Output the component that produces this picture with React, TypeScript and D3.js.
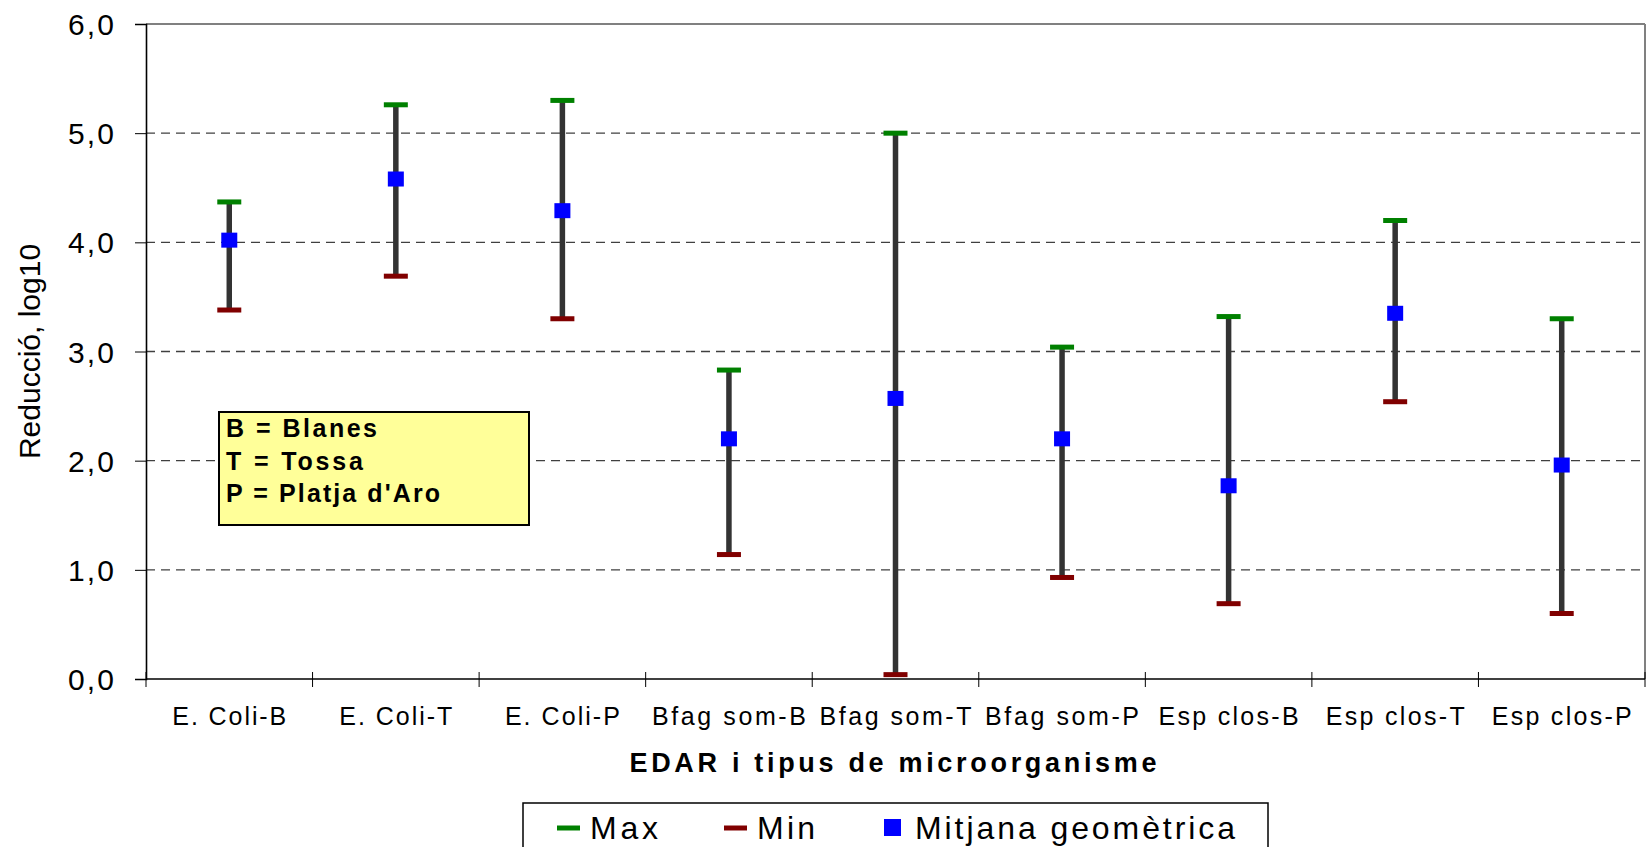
import * as d3 from "d3";
import { useEffect, useRef } from "react";

// values (log10 reduction)
const categories = [
  "E. Coli-B",
  "E. Coli-T",
  "E. Coli-P",
  "Bfag som-B",
  "Bfag som-T",
  "Bfag som-P",
  "Esp clos-B",
  "Esp clos-T",
  "Esp clos-P",
];
const maxValues = [4.37, 5.26, 5.3, 2.83, 5.0, 3.04, 3.32, 4.2, 3.3];
const minValues = [3.38, 3.69, 3.3, 1.14, 0.04, 0.93, 0.69, 2.54, 0.6];
const meanValues = [4.02, 4.58, 4.29, 2.2, 2.57, 2.2, 1.77, 3.35, 1.96];
const yTicks = [0, 1, 2, 3, 4, 5, 6];
const legendLabels = ["Max", "Min", "Mitjana geomètrica"];
const noteLines = ["B = Blanes", "T = Tossa", "P = Platja d'Aro"];

const FONT = "'Liberation Sans', Arial, Helvetica, sans-serif";
const COL_MAX = "#008000";
const COL_MIN = "#800000";
const COL_MEAN = "#0000ff";
const COL_STEM = "#333333";

// text widths measured on the reference (letter-spaced Arial)
const CAT_LABEL_W = [114, 113, 115, 154, 152, 154, 140, 139, 140];
const NOTE_W = [151, 137, 214];
const LEGEND_W = [68, 58, 320];

export default function App() {
  const ref = useRef<SVGSVGElement>(null);

  useEffect(() => {
    const host = ref.current;
    if (!host) return;
    const svg = d3.select(host);
    svg.selectAll("*").remove();

    const left = 146;
    const right = 1645;
    const top = 24;
    const bottom = 679;

    const x = d3.scaleBand<string>().domain(categories).range([left, right]).padding(0);
    const y = d3.scaleLinear().domain([0, 6]).range([bottom, top]);
    const fmt = (v: number) => d3.format(".1f")(v).replace(".", ",");

    svg.append("rect").attr("width", 1650).attr("height", 847).attr("fill", "#fff");

    // grid
    svg
      .append("g")
      .selectAll("line")
      .data(yTicks.filter((t) => t > 0 && t < 6))
      .enter()
      .append("line")
      .attr("x1", left)
      .attr("x2", right)
      .attr("y1", (d) => y(d))
      .attr("y2", (d) => y(d))
      .attr("stroke", "#404040")
      .attr("stroke-width", 1.3)
      .attr("stroke-dasharray", "9,6");

    // frame
    svg.append("line").attr("x1", left).attr("x2", right).attr("y1", top).attr("y2", top)
      .attr("stroke", "#808080").attr("stroke-width", 2);
    svg.append("line").attr("x1", right).attr("x2", right).attr("y1", top).attr("y2", bottom)
      .attr("stroke", "#808080").attr("stroke-width", 2);

    // y axis
    const yAxis = d3
      .axisLeft(y)
      .tickValues(yTicks)
      .tickSize(11)
      .tickPadding(21)
      .tickFormat((d) => fmt(+d));
    const gy = svg.append("g").attr("transform", `translate(${left},0)`).call(yAxis);
    gy.select(".domain").attr("stroke", "#000").attr("stroke-width", 1.6);
    gy.selectAll(".tick line").attr("stroke", "#000").attr("stroke-width", 1);
    gy.selectAll(".tick text")
      .attr("fill", "#000")
      .attr("font-family", FONT)
      .attr("font-size", 30)
      .attr("dy", "0.35em")
      .attr("textLength", 46)
      .attr("lengthAdjust", "spacing");

    // x axis
    const bw = x.bandwidth();
    const gx = svg.append("g");
    gx.append("line").attr("x1", left).attr("x2", right).attr("y1", bottom).attr("y2", bottom)
      .attr("stroke", "#000").attr("stroke-width", 1.6);
    gx.selectAll("line.tk")
      .data(d3.range(categories.length + 1))
      .enter()
      .append("line")
      .attr("class", "tk")
      .attr("x1", (i) => left + i * bw)
      .attr("x2", (i) => left + i * bw)
      .attr("y1", bottom - 7)
      .attr("y2", bottom + 8)
      .attr("stroke", "#000")
      .attr("stroke-width", 1);
    gx.selectAll("text")
      .data(categories)
      .enter()
      .append("text")
      .attr("x", (d) => (x(d) as number) + bw / 2)
      .attr("y", 725)
      .attr("text-anchor", "middle")
      .attr("font-family", FONT)
      .attr("font-size", 25)
      .attr("textLength", (_d, i) => CAT_LABEL_W[i])
      .attr("lengthAdjust", "spacing")
      .text((d) => d);

    // axis titles
    svg.append("text")
      .attr("x", 893)
      .attr("y", 772)
      .attr("text-anchor", "middle")
      .attr("font-family", FONT)
      .attr("font-size", 27)
      .attr("font-weight", 700)
      .attr("textLength", 527)
      .attr("lengthAdjust", "spacing")
      .text("EDAR i tipus de microorganisme");

    svg.append("text")
      .attr("transform", `translate(40,${(top + bottom) / 2}) rotate(-90)`)
      .attr("text-anchor", "middle")
      .attr("font-family", FONT)
      .attr("font-size", 30)
      .text("Reducció, log10");

    // error bars
    const rows = categories.map((c, i) => ({
      c,
      max: maxValues[i],
      min: minValues[i],
      mean: meanValues[i],
    }));
    const cx = (c: string) => (x(c) as number) + bw / 2;
    const bars = svg.append("g");
    bars.selectAll("line")
      .data(rows)
      .enter()
      .append("line")
      .attr("x1", (d) => cx(d.c))
      .attr("x2", (d) => cx(d.c))
      .attr("y1", (d) => y(d.min))
      .attr("y2", (d) => y(d.max))
      .attr("stroke", COL_STEM)
      .attr("stroke-width", 5.5);
    bars.selectAll("rect.max")
      .data(rows)
      .enter()
      .append("rect")
      .attr("class", "max")
      .attr("x", (d) => cx(d.c) - 12)
      .attr("y", (d) => y(d.max) - 2.5)
      .attr("width", 24)
      .attr("height", 5)
      .attr("fill", COL_MAX);
    bars.selectAll("rect.min")
      .data(rows)
      .enter()
      .append("rect")
      .attr("class", "min")
      .attr("x", (d) => cx(d.c) - 12)
      .attr("y", (d) => y(d.min) - 2.5)
      .attr("width", 24)
      .attr("height", 5)
      .attr("fill", COL_MIN);
    bars.selectAll("rect.mean")
      .data(rows)
      .enter()
      .append("rect")
      .attr("class", "mean")
      .attr("x", (d) => cx(d.c) - 8)
      .attr("y", (d) => y(d.mean) - 7.5)
      .attr("width", 16)
      .attr("height", 15)
      .attr("fill", COL_MEAN);

    // note box
    const note = svg.append("g");
    note.append("rect")
      .attr("x", 219)
      .attr("y", 412)
      .attr("width", 310)
      .attr("height", 113)
      .attr("fill", "#ffff99")
      .attr("stroke", "#000")
      .attr("stroke-width", 2);
    note.selectAll("text")
      .data(noteLines)
      .enter()
      .append("text")
      .attr("x", 226)
      .attr("y", (_d, i) => 437 + i * 32.7)
      .attr("font-family", FONT)
      .attr("font-size", 25)
      .attr("font-weight", 700)
      .attr("textLength", (_d, i) => NOTE_W[i])
      .attr("lengthAdjust", "spacing")
      .text((d) => d);

    // legend
    const lg = svg.append("g");
    lg.append("rect")
      .attr("x", 523)
      .attr("y", 803)
      .attr("width", 745)
      .attr("height", 70)
      .attr("fill", "#fff")
      .attr("stroke", "#000")
      .attr("stroke-width", 1.5);
    const keyX = [557, 724, 884];
    const textX = [590, 757, 915];
    legendLabels.forEach((label, i) => {
      if (i < 2) {
        lg.append("line")
          .attr("x1", keyX[i])
          .attr("x2", keyX[i] + 23)
          .attr("y1", 828)
          .attr("y2", 828)
          .attr("stroke", i === 0 ? COL_MAX : COL_MIN)
          .attr("stroke-width", 5);
      } else {
        lg.append("rect")
          .attr("x", keyX[i])
          .attr("y", 819)
          .attr("width", 17)
          .attr("height", 17)
          .attr("fill", COL_MEAN);
      }
      lg.append("text")
        .attr("x", textX[i])
        .attr("y", 839)
        .attr("font-family", FONT)
        .attr("font-size", 32)
        .attr("textLength", LEGEND_W[i])
        .attr("lengthAdjust", "spacing")
        .text(label);
    });
  }, []);

  return (
    <div style={{ position: "absolute", left: 0, top: 0 }}>
      <svg ref={ref} width={1650} height={847} style={{ display: "block" }} />
    </div>
  );
}
